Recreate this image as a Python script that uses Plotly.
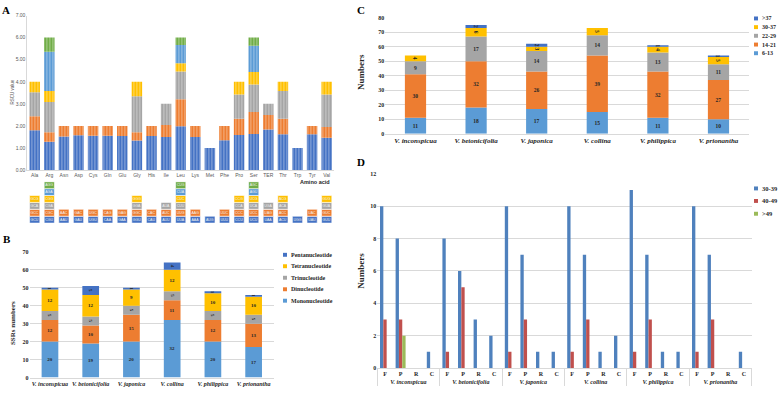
import plotly.graph_objects as go

W, H = 784, 394
def fx(px):
    return px / W
def fy(py):
    return 1 - py / H

SERIF = "Liberation Serif"
SANS = "Liberation Sans"

# ---------------- Panel A data ----------------
amino_acids = ["Ala", "Arg", "Asn", "Asp", "Cys", "Gln", "Glu", "Gly", "His", "Ile", "Leu",
               "Lys", "Met", "Phe", "Pro", "Ser", "TER", "Thr", "Trp", "Tyr", "Val"]
codons = [
    ["GCU", "GCC", "GCA", "GCG"],
    ["CGU", "CGC", "CGA", "CGG", "AGA", "AGG"],
    ["AAU", "AAC"],
    ["GAU", "GAC"],
    ["UGU", "UGC"],
    ["CAA", "CAG"],
    ["GAA", "GAG"],
    ["GGU", "GGC", "GGA", "GGG"],
    ["CAU", "CAC"],
    ["AUU", "AUC", "AUA"],
    ["UUA", "UUG", "CUU", "CUC", "CUA", "CUG"],
    ["AAA", "AAG"],
    ["AUG"],
    ["UUU", "UUC"],
    ["CCU", "CCC", "CCA", "CCG"],
    ["UCU", "UCC", "UCA", "UCG", "AGU", "AGC"],
    ["UAA", "UAG", "UGA"],
    ["ACU", "ACC", "ACA", "ACG"],
    ["UGG"],
    ["UAU", "UAC"],
    ["GUU", "GUC", "GUA", "GUG"],
]
rscu = [
    [1.81, 0.63, 1.08, 0.48],
    [1.28, 0.44, 1.36, 0.50, 1.78, 0.64],
    [1.52, 0.48],
    [1.58, 0.42],
    [1.56, 0.44],
    [1.56, 0.44],
    [1.55, 0.45],
    [1.34, 0.38, 1.62, 0.66],
    [1.55, 0.45],
    [1.50, 0.54, 0.96],
    [1.99, 1.22, 1.25, 0.38, 0.82, 0.34],
    [1.50, 0.50],
    [1.00],
    [1.35, 0.65],
    [1.59, 0.74, 1.09, 0.58],
    [1.63, 1.00, 1.25, 0.56, 1.19, 0.37],
    [1.84, 0.66, 0.50],
    [1.62, 0.71, 1.25, 0.42],
    [1.00],
    [1.62, 0.38],
    [1.47, 0.48, 1.47, 0.58],
]
rscu_ticks = [0, 1, 2, 3, 4, 5, 6, 7]
codon_colors = ["#4472C4", "#ED7D31", "#A5A5A5", "#FFC000", "#5B9BD5", "#70AD47"]

# ---------------- Panel B data ----------------
species = ["V. inconspicua", "V. betonicifolia", "V. japonica", "V. collina", "V. philippica", "V. prionantha"]
ssr_types = ["Mononucleotide", "Dinucleotide", "Trinucleotide", "Tetranucleotide", "Pentanucleotide"]
ssr_mono = [20, 19, 20, 32, 20, 17]
ssr_di = [12, 10, 15, 11, 12, 13]
ssr_tri = [5, 5, 5, 5, 5, 5]
ssr_tetra = [12, 12, 9, 12, 10, 10]
ssr_penta = [1, 5, 1, 4, 1, 1]
ssr_colors = ["#5B9BD5", "#ED7D31", "#A5A5A5", "#FFC000", "#4472C4"]

# ---------------- Panel C data ----------------
len_classes = ["6-13", "14-21", "22-29", "30-37", ">37"]
len_6_13 = [11, 18, 17, 15, 11, 10]
len_14_21 = [30, 32, 26, 39, 32, 27]
len_22_29 = [9, 17, 14, 14, 13, 11]
len_30_37 = [4, 6, 3, 5, 4, 5]
len_gt37 = [0, 2, 2, 0, 1, 1]
len_colors = ["#5B9BD5", "#ED7D31", "#A5A5A5", "#FFC000", "#4472C4"]

# ---------------- Panel D data ----------------
repeat_types = ["F", "P", "R", "C"]
rep_classes = ["30-39", "40-49", ">49"]
rep_30_39 = [[10, 8, 0, 1], [8, 6, 3, 2], [10, 7, 1, 1], [10, 7, 1, 2], [11, 7, 1, 1], [10, 7, 0, 1]]
rep_40_49 = [[3, 3, 0, 0], [1, 5, 0, 0], [1, 3, 0, 0], [1, 3, 0, 0], [1, 3, 0, 0], [1, 3, 0, 0]]
rep_gt49 = [[0, 2, 0, 0], [0, 0, 0, 0], [0, 0, 0, 0], [0, 0, 0, 0], [0, 0, 0, 0], [0, 0, 0, 0]]
rep_colors = ["#4F81BD", "#C0504D", "#9BBB59"]

fig = go.Figure()

# ---- Panel A: stacked RSCU bars ----
nmax = max(len(r) for r in rscu)
for k in range(nmax):
    ys, bases = [], []
    for vals in rscu:
        if k < len(vals):
            ys.append(vals[k])
            bases.append(sum(vals[:k]))
        else:
            ys.append(None)
            bases.append(0)
    fig.add_trace(go.Bar(
        x=amino_acids, y=ys, base=bases, xaxis="x", yaxis="y",
        offsetgroup="a", width=0.72,
        marker=dict(color=codon_colors[k], line=dict(width=0),
                    pattern=dict(shape="|", fgcolor="white", fgopacity=0.45, size=3, solidity=0.3)),
        showlegend=False, hoverinfo="skip"))

# ---- Panel A: codon boxes ----
for k in range(nmax):
    ys, bases, txt = [], [], []
    for cl in codons:
        if k < len(cl):
            ys.append(1)
            txt.append(cl[k])
        else:
            ys.append(None)
            txt.append("")
        bases.append(k)
    fig.add_trace(go.Bar(
        x=amino_acids, y=ys, base=bases, xaxis="x2", yaxis="y2",
        offsetgroup="c", width=0.7, text=txt, textposition="inside",
        insidetextanchor="middle", constraintext="none",
        textfont=dict(size=3.5, color="#F2F2F2", family=SANS),
        marker=dict(color=codon_colors[k], line=dict(width=0.6, color="white")),
        showlegend=False, hoverinfo="skip"))

# ---- Panel B ----
b_series = [ssr_mono, ssr_di, ssr_tri, ssr_tetra, ssr_penta]
for k, ser in enumerate(b_series):
    bases = [sum(b_series[j][i] for j in range(k)) for i in range(len(species))]
    fig.add_trace(go.Bar(
        x=species, y=ser, base=bases, xaxis="x3", yaxis="y3",
        offsetgroup="b", width=0.41,
        text=[str(v) if v else "" for v in ser], textposition="inside",
        insidetextanchor="middle", constraintext="none",
        textfont=dict(size=5, color="#262626", family=SERIF, weight="bold"),
        marker=dict(color=ssr_colors[k], line=dict(width=0)),
        name=ssr_types[k], showlegend=False, hoverinfo="skip"))

# ---- Panel C ----
c_series = [len_6_13, len_14_21, len_22_29, len_30_37, len_gt37]
for k, ser in enumerate(c_series):
    bases = [sum(c_series[j][i] for j in range(k)) for i in range(len(species))]
    fig.add_trace(go.Bar(
        x=species, y=ser, base=bases, xaxis="x4", yaxis="y4",
        offsetgroup="cc", width=0.35,
        text=[str(v) if v else "" for v in ser], textposition="inside",
        insidetextanchor="middle", constraintext="none",
        textfont=dict(size=5.5, color="#262626", family=SERIF, weight="bold"),
        marker=dict(color=len_colors[k], line=dict(width=0)),
        name=len_classes[k], showlegend=False, hoverinfo="skip"))

# ---- Panel D ----
sp_italic = ["<i>" + s + "</i>" for s in species]
outer, inner = [], []
for s in sp_italic:
    for r in repeat_types:
        outer.append(s)
        inner.append(r)
for k, ser in enumerate([rep_30_39, rep_40_49, rep_gt49]):
    flat = [v for row in ser for v in row]
    fig.add_trace(go.Bar(
        x=[outer, inner], y=flat, xaxis="x5", yaxis="y5",
        marker=dict(color=rep_colors[k], line=dict(width=0)),
        name=rep_classes[k], showlegend=False, hoverinfo="skip"))

grid = "#D9D9D9"
tick_serif = dict(family=SERIF, size=6, color="#262626", weight="bold")

fig.update_layout(
    width=W, height=H, margin=dict(l=0, r=0, t=0, b=0),
    paper_bgcolor="white", plot_bgcolor="rgba(0,0,0,0)",
    barmode="group", bargap=0.36, bargroupgap=0, showlegend=False,
    xaxis=dict(domain=[fx(27.4), fx(334)], anchor="y", type="category",
               categoryorder="array", categoryarray=amino_acids,
               showline=True, linecolor=grid, ticks="", showgrid=False,
               tickfont=dict(family=SANS, size=5, color="#595959")),
    yaxis=dict(domain=[fy(169.7), fy(12.7)], anchor="x", range=[0, 7],
               tickvals=rscu_ticks, tickformat=".2f", showgrid=False, zeroline=False,
               showline=True, linecolor=grid, ticks="",
               tickfont=dict(family=SANS, size=5, color="#595959")),
    xaxis2=dict(domain=[fx(27.4), fx(334)], anchor="y2", type="category",
                categoryorder="array", categoryarray=amino_acids, visible=False),
    yaxis2=dict(domain=[fy(223.5), fy(181.5)], anchor="x2", range=[0, 6], visible=False),
    xaxis3=dict(domain=[fx(29.6), fx(274)], anchor="y3", type="category",
                tickvals=species, ticktext=sp_italic, ticks="", showgrid=False,
                showline=True, linecolor=grid, tickfont=tick_serif),
    yaxis3=dict(domain=[fy(380.3), fy(252.7)], anchor="x3", range=[0, 70], dtick=10,
                gridcolor=grid, zeroline=False, ticks="", tickfont=tick_serif),
    xaxis4=dict(domain=[fx(385.2), fx(748.8)], anchor="y4", type="category",
                tickvals=species, ticktext=sp_italic, ticks="", showgrid=False,
                showline=True, linecolor=grid,
                tickfont=dict(family=SERIF, size=7, color="#262626", weight="bold")),
    yaxis4=dict(domain=[fy(132.7), fy(15)], anchor="x4", range=[0, 80], dtick=10,
                gridcolor=grid, zeroline=False, ticks="", tickfont=tick_serif),
    xaxis5=dict(domain=[fx(377.2), fx(751.6)], anchor="y5", type="multicategory",
                showdividers=True, dividercolor=grid, dividerwidth=1, ticks="",
                showgrid=False, showline=True, linecolor=grid,
                tickfont=dict(family=SERIF, size=6, color="#262626", weight="bold")),
    yaxis5=dict(domain=[fy(370.7), fy(173.5)], anchor="x5", range=[0, 12], dtick=2,
                gridcolor=grid, zeroline=False, ticks="", tickfont=tick_serif),
)

ann = []
shapes = []
def label(text, x, y, size, family=SERIF, bold=True, angle=0, xanchor="center", color="black"):
    ann.append(dict(text=text, x=fx(x), y=fy(y), xref="paper", yref="paper", showarrow=False,
                    xanchor=xanchor, yanchor="middle", textangle=angle,
                    font=dict(family=family, size=size, color=color,
                              weight="bold" if bold else "normal")))

label("A", 6, 7, 11)
label("B", 7, 240, 11)
label("C", 361, 7, 11)
label("D", 361, 161, 11)
label("RSCU value", 13, 91, 4.5, family=SANS, bold=False, angle=-90, color="#595959")
label("Amino acid", 315, 182, 5.5, family=SANS, bold=True, color="#262626")
label("SSRs numbers", 13, 325, 7, angle=-90, color="#262626")
label("Numbers", 361, 70, 9, angle=-90, color="#262626")
label("Numbers", 361, 272, 9, angle=-90, color="#262626")

def legend(names, colors, x0, ys, size):
    for nm, col, yy in zip(names, colors, ys):
        shapes.append(dict(type="rect", xref="paper", yref="paper",
                           x0=fx(x0), x1=fx(x0 + 4), y0=fy(yy + 2), y1=fy(yy - 2),
                           fillcolor=col, line=dict(width=0)))
        label(nm, x0 + 5.5, yy, size, xanchor="left", color="#262626")

# Panel B legend (top to bottom)
legend(ssr_types[::-1], ssr_colors[::-1], 283, [255.7, 267.3, 279, 290.7, 302.3], 6)
# Panel C legend
legend(len_classes[::-1], len_colors[::-1], 754, [15.7, 24.5, 33.3, 42.2, 51], 6)
# Panel D legend
legend(rep_classes, rep_colors, 754, [188.3, 201, 214], 6.5)

fig.update_layout(annotations=ann, shapes=shapes)
fig.write_html("out.html", config={"displayModeBar": False, "staticPlot": True},
               post_script="document.body.style.margin='0';document.body.style.overflow='hidden';")
